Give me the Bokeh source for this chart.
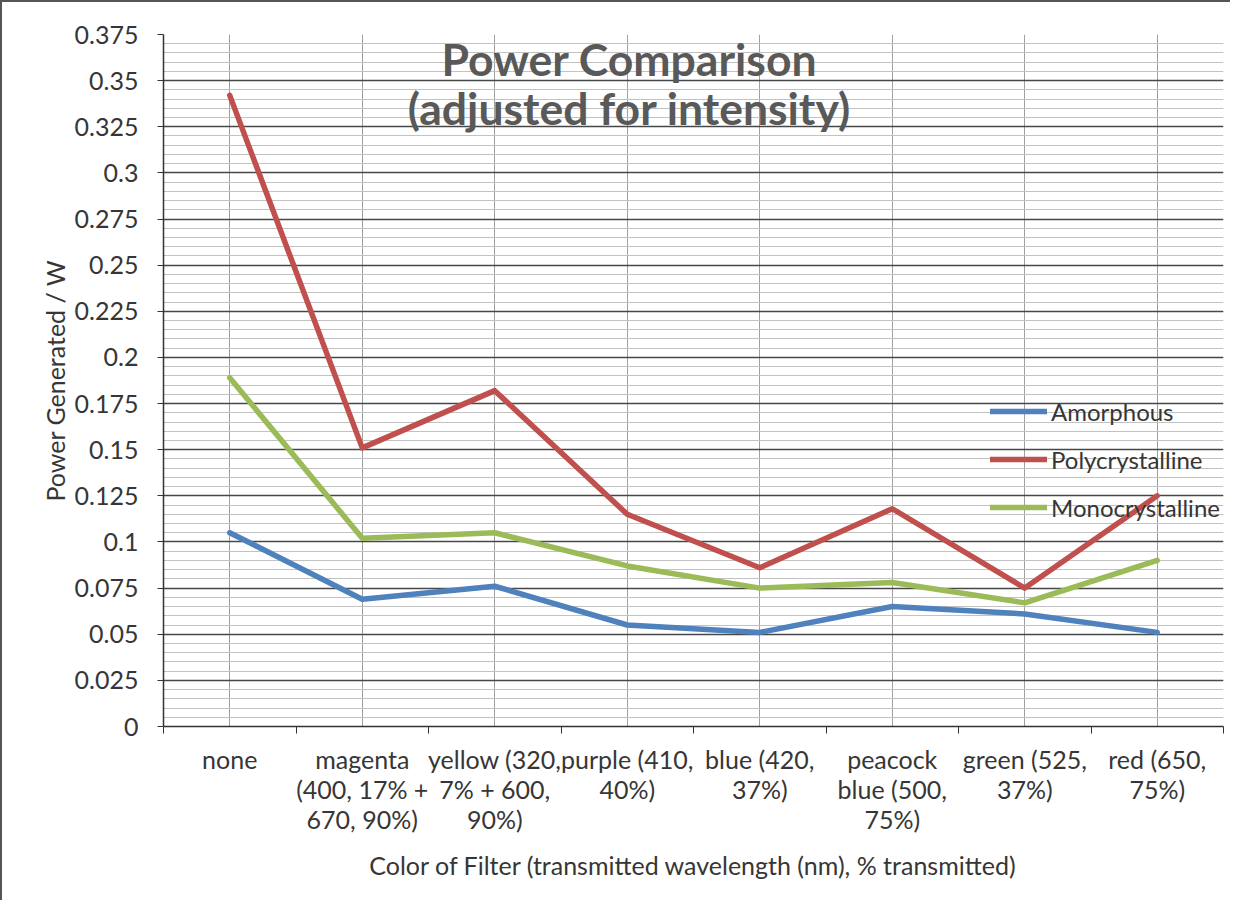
from bokeh.plotting import figure
from bokeh.models import (Range1d, FixedTicker, CustomJSTickFormatter, Legend,
                          LegendItem, Label)
from bokeh.embed import file_html
from bokeh.resources import INLINE

# ---------------- data ----------------
categories = [
    "none",
    "magenta\n(400, 17% +\n670, 90%)",
    "yellow (320,\n7% + 600,\n90%)",
    "purple (410,\n40%)",
    "blue (420,\n37%)",
    "peacock\nblue (500,\n75%)",
    "green (525,\n37%)",
    "red (650,\n75%)",
]
amorphous = [0.105, 0.069, 0.076, 0.055, 0.051, 0.065, 0.061, 0.051]
polycrystalline = [0.342, 0.151, 0.182, 0.115, 0.086, 0.118, 0.075, 0.125]
monocrystalline = [0.189, 0.102, 0.105, 0.087, 0.075, 0.078, 0.067, 0.090]

series_names = ["Amorphous", "Polycrystalline", "Monocrystalline"]
series_colors = ["#4F81BD", "#C0504D", "#9BBB59"]

y_ticks = [0, 0.025, 0.05, 0.075, 0.1, 0.125, 0.15, 0.175, 0.2, 0.225,
           0.25, 0.275, 0.3, 0.325, 0.35, 0.375]
y_tick_labels = ["0", "0.025", "0.05", "0.075", "0.1", "0.125", "0.15", "0.175",
                 "0.2", "0.225", "0.25", "0.275", "0.3", "0.325", "0.35", "0.375"]

title_lines = ["Power Comparison", "(adjusted for intensity)"]
x_title = "Color of Filter (transmitted wavelength (nm), % transmitted)"
y_title = "Power Generated / W"

# ---------------- layout helpers ----------------
n = len(categories)
xs = [i + 0.5 for i in range(n)]          # category centres
bounds = list(range(n + 1))               # category boundaries
y_minor = [round(i * 0.005, 3) for i in range(76)]

FONT = "Lato"
TXT = "#363636"
FS = "25px"

p = figure(width=1230, height=900, x_range=Range1d(0, n), y_range=Range1d(0, 0.375),
           output_backend="svg", toolbar_location=None,
           min_border_left=161, min_border_right=9, min_border_top=32,
           min_border_bottom=176)
p.styles = {"border-top": "2px solid #555555", "border-left": "2px solid #555555"}
p.outline_line_color = None
p.background_fill_color = "white"
p.border_fill_color = "white"

# grids
p.ygrid.ticker = FixedTicker(ticks=y_ticks, minor_ticks=y_minor)
p.ygrid.grid_line_color = "#474747"
p.ygrid.grid_line_width = 1.7
p.ygrid.minor_grid_line_color = "#c2c2c2"
p.ygrid.minor_grid_line_width = 1
p.xgrid.ticker = FixedTicker(ticks=xs)
p.xgrid.grid_line_color = "#a0a0a0"
p.xgrid.grid_line_width = 1

# y axis
ya = p.yaxis[0]
ya.ticker = FixedTicker(ticks=y_ticks)
ya.formatter = CustomJSTickFormatter(args=dict(vals=y_ticks, labels=y_tick_labels), code="""
for (let i = 0; i < vals.length; i++) { if (Math.abs(vals[i] - tick) < 1e-9) return labels[i]; }
return '';
""")
ya.axis_line_color = "#333333"
ya.axis_line_width = 1.5
ya.major_tick_line_color = "#333333"
ya.major_tick_out = 6
ya.major_tick_in = 0
ya.minor_tick_line_color = None
ya.major_label_standoff = 19
ya.major_label_text_font = FONT
ya.major_label_text_font_size = FS
ya.major_label_text_color = TXT
ya.axis_label = y_title
ya.axis_label_text_font = FONT
ya.axis_label_text_font_size = FS
ya.axis_label_text_font_style = "normal"
ya.axis_label_text_color = TXT
ya.axis_label_standoff = 2

# x axis
xa = p.xaxis[0]
xa.ticker = FixedTicker(ticks=xs, minor_ticks=bounds)
xa.formatter = CustomJSTickFormatter(args=dict(vals=xs, labels=categories), code="""
for (let i = 0; i < vals.length; i++) { if (Math.abs(vals[i] - tick) < 1e-9) return labels[i]; }
return '';
""")
xa.axis_line_color = "#333333"
xa.axis_line_width = 1.5
xa.major_tick_line_color = None
xa.major_tick_out = 0
xa.major_tick_in = 0
xa.minor_tick_line_color = "#333333"
xa.minor_tick_out = 7
xa.minor_tick_in = 0
xa.major_label_standoff = 10
xa.major_label_text_font = FONT
xa.major_label_text_font_size = FS
xa.major_label_text_color = TXT
xa.major_label_text_line_height = 1.0
xa.axis_label = x_title
xa.axis_label_text_font = FONT
xa.axis_label_text_font_size = FS
xa.axis_label_text_font_style = "normal"
xa.axis_label_text_color = TXT
xa.axis_label_standoff = 13

# lines
renderers = []
for vals, col in zip([amorphous, polycrystalline, monocrystalline], series_colors):
    r = p.line(xs, vals, line_color=col, line_width=5.5, line_join="round", line_cap="round")
    renderers.append(r)

legend = Legend(items=[LegendItem(label=nm, renderers=[r]) for nm, r in zip(series_names, renderers)],
                location=(827, 204), orientation="vertical",
                border_line_color=None, background_fill_alpha=0,
                padding=0, margin=0, spacing=18,
                glyph_width=57, glyph_height=30, label_height=30, label_standoff=4,
                label_text_font=FONT, label_text_font_size="24px", label_text_color=TXT)
p.add_layout(legend)

# title (placed inside the plot area as in the original)
for txt, yy in zip(title_lines, [0.3620, 0.3354]):
    p.add_layout(Label(x=3.517, y=yy, text=txt, text_align="center", text_baseline="alphabetic",
                       text_font=FONT, text_font_style="bold", text_font_size="44.5px",
                       text_color="#595959"))

open("out.html", "w").write(file_html(p, INLINE))
